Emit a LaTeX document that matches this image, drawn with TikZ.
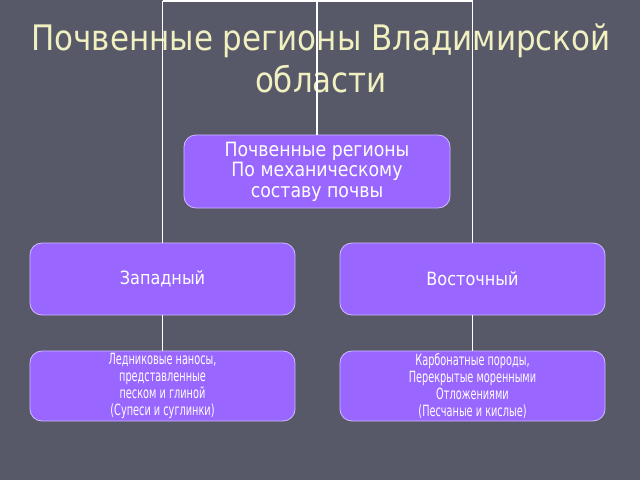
\documentclass[tikz,border=0pt]{standalone}
\usepackage{fontspec}
\setmainfont{DejaVu Sans}[FakeStretch=0.88]
\newfontfamily\narrowfont{DejaVu Sans}[FakeStretch=0.63]
\usepackage{tikz}
\usetikzlibrary{positioning}

\definecolor{bgslate}{RGB}{88,89,104}
\definecolor{boxviolet}{RGB}{153,102,255}
\definecolor{boxrim}{RGB}{205,185,255}
\definecolor{titlecream}{RGB}{240,240,192}

\tikzset{
    regionbox/.style={draw=boxrim, fill=boxviolet, rounded corners=0.3cm, text=white,
        align=center, inner sep=0pt, line width=0.6pt},
    link/.style={draw=white, line width=1.1pt}
}

\begin{document}
\begin{tikzpicture}[x=0.025cm, y=-0.025cm]
                \fill[bgslate] (0,0) rectangle (640,480);
                \useasboundingbox (0,0) rectangle (640,480);

                \node[text=titlecream, align=center, font=\fontsize{25}{30}\selectfont] (title) at (321,58)
                    {Почвенные регионы Владимирской\\области};

                \node[regionbox, minimum width=6.65cm, minimum height=1.825cm,
                      font=\fontsize{14}{14.5}\selectfont] (soil) at (317,171.5)
                    {Почвенные регионы\\По механическому\\ составу почвы};

                \node[regionbox, minimum width=6.625cm, minimum height=1.8cm,
                      font=\fontsize{13}{16}\selectfont] (west) at (162.5,279) {Западный};
                \node[regionbox, minimum width=6.625cm, minimum height=1.8cm,
                      font=\fontsize{13}{16}\selectfont] (east) at (472.5,279) {Восточный};

                \node[regionbox, minimum width=6.625cm, minimum height=1.75cm,
                      font=\narrowfont\fontsize{11}{12}\selectfont] (westsoil) at (162.5,386)
                    {Ледниковые наносы,\\представленные\\ песком и глиной\\(Супеси и суглинки)};
                \node[regionbox, minimum width=6.625cm, minimum height=1.75cm,
                      font=\narrowfont\fontsize{11}{12}\selectfont] (eastsoil) at (472.5,386)
                    {Карбонатные породы,\\Перекрытые моренными\\Отложениями\\(Песчаные и кислые)};

                \coordinate (topleft)  at (162.5,1);
                \coordinate (topmid)   at (317,1);
                \coordinate (topright) at (472.5,1);

                \path[link]
                (topleft) -- (topright)
                (topmid) -- (soil)
                (topleft) -- (west)
                (topright) -- (east)
                (west) -- (westsoil)
                (east) -- (eastsoil);
            \end{tikzpicture}
\end{document}
